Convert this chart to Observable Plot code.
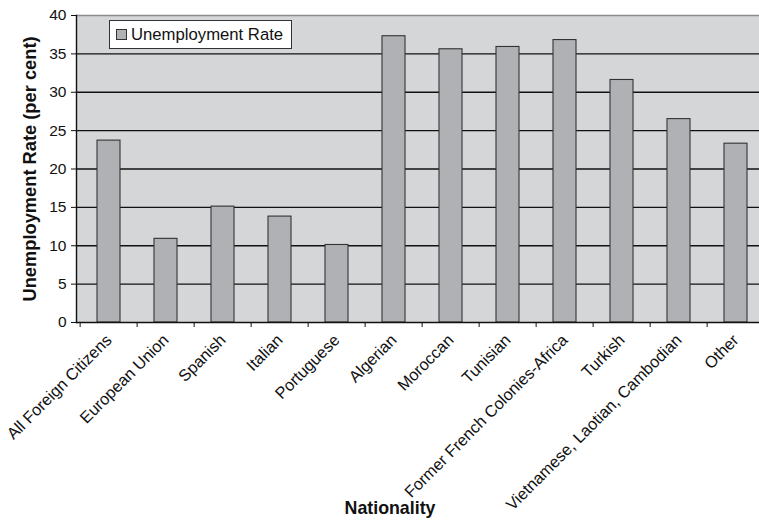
<!DOCTYPE html>
<html>
<head>
<meta charset="utf-8">
<script src="https://cdn.jsdelivr.net/npm/d3@7"></script>
<script src="https://cdn.jsdelivr.net/npm/@observablehq/plot@0.6"></script>
<style>
  body { margin: 0; background: #fff; font-family: "Liberation Sans", Arial, sans-serif; }
  #chart { position: relative; width: 759px; height: 526px; overflow: hidden; }
  #chart svg { display: block; }
  .legend {
    position: absolute; left: 109px; top: 20px; width: 183px; height: 29px;
    box-sizing: border-box; background: #fff; border: 1px solid #333;
    font-size: 16.7px; color: #111; white-space: nowrap;
  }
  .legend .swatch {
    position: absolute; left: 6px; top: 8px; width: 11px; height: 11px;
    box-sizing: border-box; background: #b0b1b4; border: 1px solid #333;
  }
  .legend .label { position: absolute; left: 21px; top: 4px; line-height: 19px; }
</style>
</head>
<body>
<div id="chart"></div>
<script>
// Unemployment rate by nationality (per cent)
const nationalities = [
  "All Foreign Citizens", "European Union", "Spanish", "Italian", "Portuguese",
  "Algerian", "Moroccan", "Tunisian", "Former French Colonies-Africa",
  "Turkish", "Vietnamese, Laotian, Cambodian", "Other"
];
const rates = [23.7, 10.9, 15.1, 13.8, 10.1, 37.3, 35.6, 35.9, 36.8, 31.6, 26.5, 23.3];
const yTicks = [0, 5, 10, 15, 20, 25, 30, 35, 40];
const gridLines = [5, 10, 15, 20, 25, 30, 35];
const seriesName = "Unemployment Rate";
const yTitle = "Unemployment Rate (per cent)";
const xTitle = "Nationality";

const data = nationalities.map((n, i) => ({nationality: n, rate: rates[i]}));

const xRange = [76, 769];
const step = (xRange[1] - xRange[0]) / nationalities.length;

const chart = Plot.plot({
  width: 759,
  height: 526,
  marginLeft: 76,
  marginRight: 0,
  marginTop: 15,
  marginBottom: 204,
  style: {fontFamily: "'Liberation Sans', Arial, sans-serif", color: "#111", background: "#fff"},
  x: {type: "band", domain: nationalities, range: xRange, paddingInner: 0.59, paddingOuter: 0.295},
  y: {domain: [0, 40]},
  marks: [
    Plot.frame({fill: "#d5d6d8", stroke: "none"}),
    Plot.ruleY(gridLines, {stroke: "#111", strokeWidth: 1.3}),
    Plot.ruleY([40], {stroke: "#8c8c8c", strokeWidth: 1.3}),
    Plot.barY(data, {x: "nationality", y: "rate", fill: "#b0b1b4", stroke: "#333", strokeWidth: 1.1}),
    Plot.frame({anchor: "left", stroke: "#111", strokeWidth: 1.4}),
    Plot.frame({anchor: "bottom", stroke: "#111", strokeWidth: 1.4}),
    Plot.axisY({ticks: yTicks, tickSize: 5, tickPadding: 5, fontSize: 15.5, label: null, stroke: "#111"}),
    // tick marks sit on the category boundaries
    Plot.axisX({tickSize: 5, text: null, label: null, dx: -step / 2, stroke: "#111"}),
    Plot.text(nationalities, {
      x: d => d, frameAnchor: "bottom", rotate: -45, textAnchor: "end", lineAnchor: "middle",
      dy: 15, fontSize: 16.3, fill: "#111"
    }),
    Plot.text([yTitle], {frameAnchor: "left", textAnchor: "middle", dx: -46, rotate: -90, fontSize: 18.3, fontWeight: "bold", fill: "#111"}),
    Plot.text([xTitle], {frameAnchor: "bottom", dx: -28, dy: 191, fontSize: 17.8, fontWeight: "bold", fill: "#111"})
  ]
});

const container = document.getElementById("chart");
container.appendChild(chart);

const legend = document.createElement("div");
legend.className = "legend";
legend.innerHTML = `<span class="swatch"></span><span class="label"></span>`;
legend.querySelector(".label").textContent = seriesName;
container.appendChild(legend);
</script>
</body>
</html>
